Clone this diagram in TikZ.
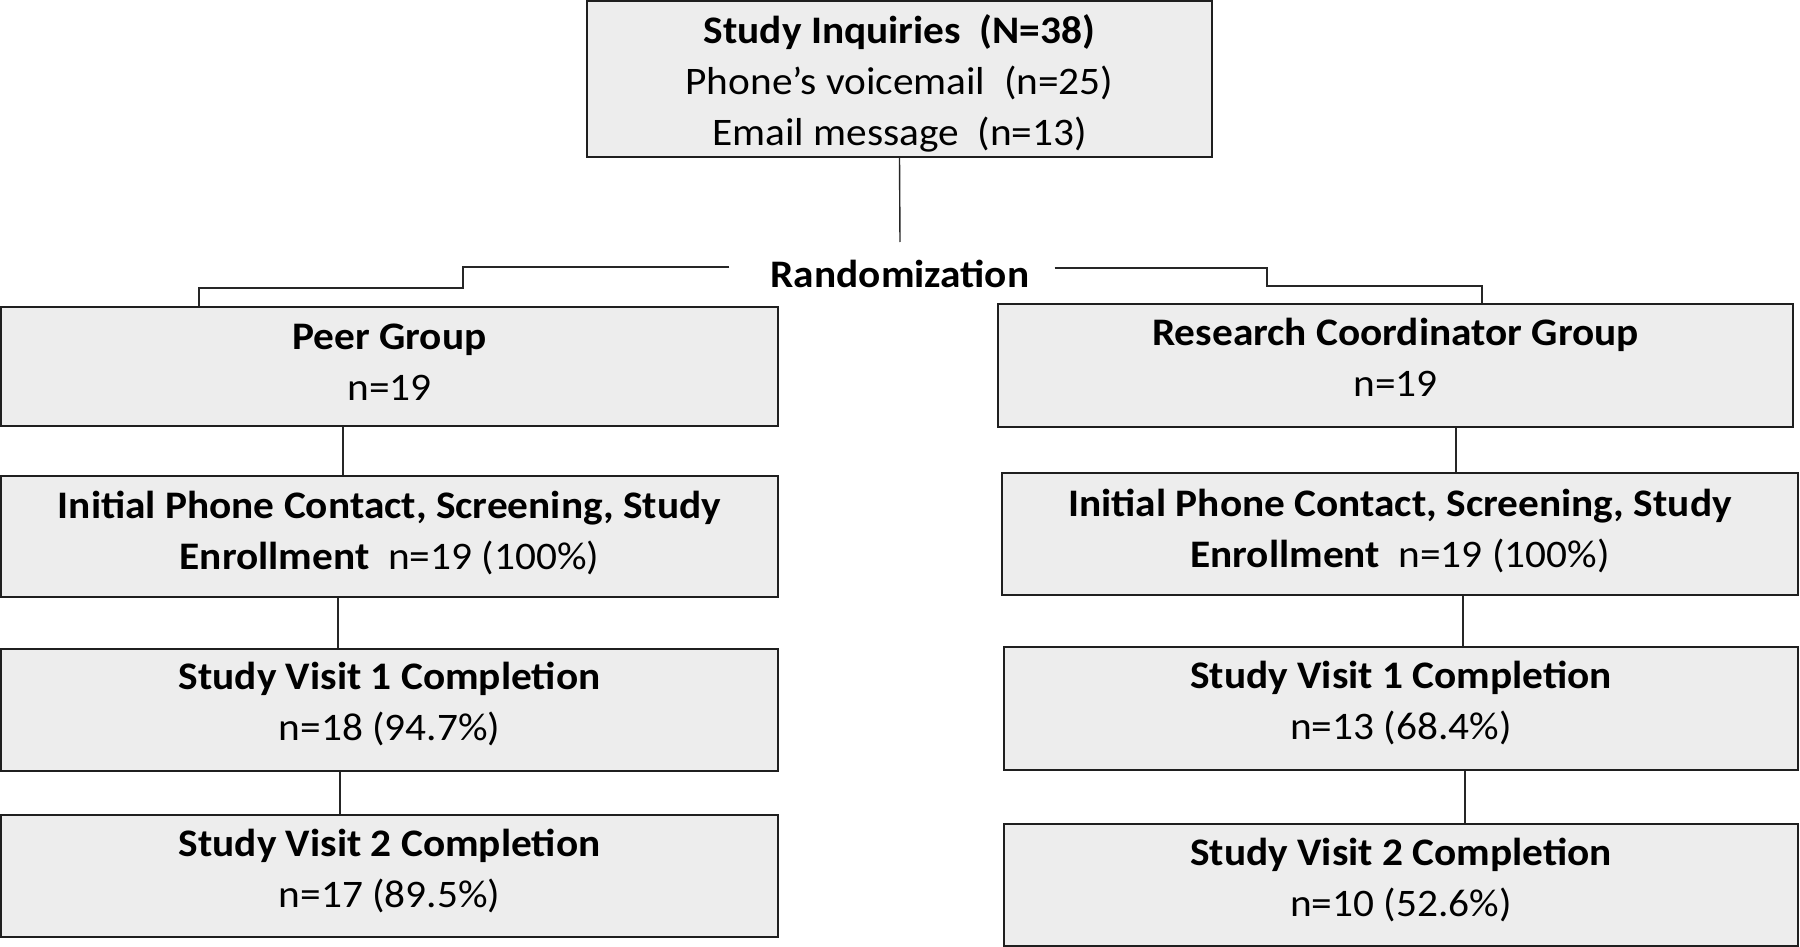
\documentclass[tikz,border=0pt]{standalone}
\usepackage{fontspec}
\setmainfont{Carlito}[FakeStretch=1.06]
\begin{document}
\begin{tikzpicture}[x=0.5pt,y=-0.5pt,
  box/.style={draw=black!88,line width=1.1pt,fill=black!7,inner sep=0pt},
  txt/.style={align=center,inner sep=0pt,font=\fontsize{19.5}{25.5}\selectfont},
  conn/.style={draw=black!85,line width=0.7pt}]
\useasboundingbox (0,0) rectangle (1800,947);
\node[box,minimum width=312.5pt,minimum height=78pt,
  label={[txt,yshift=-2.3pt]center:{\textbf{Study Inquiries\ \ (N=38)}\\Phone’s voicemail\ \ (n=25)\\Email message\ \ (n=13)}}] (top) at (899.5,79) {};
\node[font=\fontsize{19.5}{25.5}\selectfont\bfseries,inner xsep=12.5pt,inner ysep=0pt] (rand) at (900,274) {Randomization};
\coordinate (rtop) at (900,242);
\node[box,minimum width=388.5pt,minimum height=59.5pt,
  label={[txt,yshift=2.3pt]center:{\textbf{Peer Group}\\n=19}}] (peer) at (389.5,366.5) {};
\node[box,minimum width=397.5pt,minimum height=61.5pt,
  label={[txt,yshift=4pt]center:{\textbf{Research Coordinator Group}\\n=19}}] (rc) at (1395.5,365.5) {};
\node[box,minimum width=388.5pt,minimum height=60.5pt,
  label={[txt,yshift=1.7pt]center:{\textbf{Initial Phone Contact, Screening, Study}\\\textbf{Enrollment}\ \ n=19 (100\%)}}] (ipl) at (389.5,536.5) {};
\node[box,minimum width=398pt,minimum height=61pt,
  label={[txt,yshift=1.7pt]center:{\textbf{Initial Phone Contact, Screening, Study}\\\textbf{Enrollment}\ \ n=19 (100\%)}}] (ipr) at (1400,534) {};
\node[box,minimum width=388.5pt,minimum height=61pt,
  label={[txt,yshift=2.9pt]center:{\textbf{Study Visit 1 Completion}\\n=18 (94.7\%)}}] (sv1l) at (389.5,710) {};
\node[box,minimum width=397pt,minimum height=61.5pt,
  label={[txt,yshift=2.9pt]center:{\textbf{Study Visit 1 Completion}\\n=13 (68.4\%)}}] (sv1r) at (1401,708.5) {};
\node[box,minimum width=388.5pt,minimum height=61pt,
  label={[txt,yshift=2.3pt]center:{\textbf{Study Visit 2 Completion}\\n=17 (89.5\%)}}] (sv2l) at (389.5,876) {};
\node[box,minimum width=397pt,minimum height=61pt,
  label={[txt,yshift=2.3pt]center:{\textbf{Study Visit 2 Completion}\\n=10 (52.6\%)}}] (sv2r) at (1401,885) {};
\draw[conn] (top.south) -- (rtop);
\draw[conn] ([xshift=-8pt,yshift=3.5pt]rand.west) -| (463,288) -- (199,288) -- (peer.north -| 199,0);
\draw[conn] ([xshift=0pt,yshift=3pt]rand.east) -| (1267,286) -- (1482,286) -- (rc.north -| 1482,0);
\draw[conn] (peer.south -| 343,0) -- (ipl.north -| 343,0);
\draw[conn] (rc.south -| 1456,0) -- (ipr.north -| 1456,0);
\draw[conn] (ipl.south -| 338,0) -- (sv1l.north -| 338,0);
\draw[conn] (ipr.south -| 1463,0) -- (sv1r.north -| 1463,0);
\draw[conn] (sv1l.south -| 340,0) -- (sv2l.north -| 340,0);
\draw[conn] (sv1r.south -| 1465,0) -- (sv2r.north -| 1465,0);
\end{tikzpicture}
\end{document}
